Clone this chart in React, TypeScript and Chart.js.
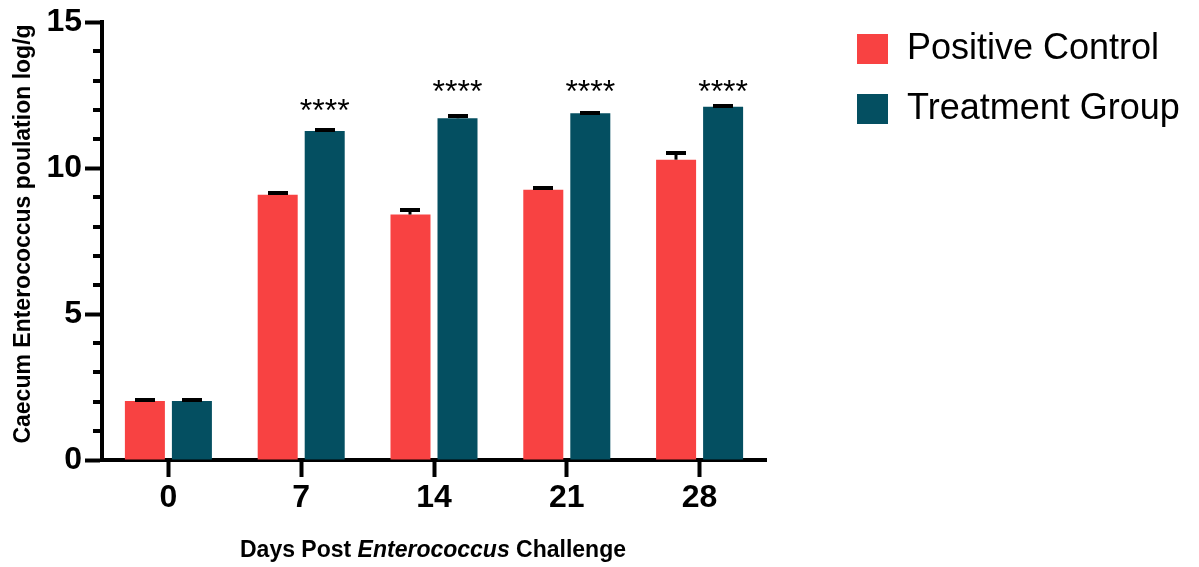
import React, { useEffect, useRef } from 'react';
import { Chart, registerables } from 'chart.js';

Chart.register(...registerables);

// Sampling days after the challenge
const categories = ['0', '7', '14', '21', '28'];

// Mean caecal Enterococcus counts (log/g) and their SEM
const positiveControl = [2.02, 9.09, 8.41, 9.26, 10.29];
const positiveControlSem = [0.04, 0.05, 0.14, 0.05, 0.22];
const treatmentGroup = [2.02, 11.27, 11.71, 11.88, 12.1];
const treatmentGroupSem = [0.03, 0.02, 0.09, 0.02, 0.03];

// Significance marks above the treatment bars and the level they sit at
const significance = ['', '****', '****', '****', '****'];
const significanceLevel = [0, 12.13, 12.79, 12.79, 12.79];

// Value axis ticks
const yTickValues = [0, 5, 10, 15];

const FONT = "'Liberation Sans', Arial, Helvetica, sans-serif";
const RED = '#F84242';
const TEAL = '#044F61';
const INK = '#000000';

const decorations = {
  id: 'decorations',
  afterDatasetsDraw(chart: any) {
    const ctx = chart.ctx as CanvasRenderingContext2D;
    const y = chart.scales.y;
    const sems = [positiveControlSem, treatmentGroupSem];

    // upper error bars with caps
    chart.data.datasets.forEach((ds: any, i: number) => {
      const meta = chart.getDatasetMeta(i);
      meta.data.forEach((bar: any, j: number) => {
        const top = Math.round(y.getPixelForValue(ds.data[j] + sems[i][j]));
        const x = Math.round(bar.x);
        ctx.save();
        ctx.strokeStyle = INK;
        ctx.lineCap = 'butt';
        ctx.lineWidth = 3;
        ctx.beginPath();
        ctx.moveTo(x, bar.y);
        ctx.lineTo(x, top);
        ctx.stroke();
        ctx.lineWidth = 4;
        ctx.beginPath();
        ctx.moveTo(x - 10, top);
        ctx.lineTo(x + 10, top);
        ctx.stroke();
        ctx.restore();
      });
    });

    // significance stars over the treatment bars
    const tMeta = chart.getDatasetMeta(1);
    ctx.save();
    ctx.fillStyle = INK;
    ctx.font = `32px ${FONT}`;
    ctx.textAlign = 'center';
    ctx.textBaseline = 'alphabetic';
    tMeta.data.forEach((bar: any, j: number) => {
      if (!significance[j]) return;
      const cy = y.getPixelForValue(significanceLevel[j]);
      ctx.fillText(significance[j], bar.x, cy + 32 * 0.48);
    });
    ctx.restore();
  },
  afterDraw(chart: any) {
    const ctx = chart.ctx as CanvasRenderingContext2D;
    const y = chart.scales.y;
    const area = chart.chartArea;

    // minor ticks on the value axis
    ctx.save();
    ctx.strokeStyle = INK;
    ctx.lineWidth = 4;
    for (let v = 0; v <= 15; v++) {
      if (yTickValues.includes(v)) continue;
      const py = Math.round(y.getPixelForValue(v));
      ctx.beginPath();
      ctx.moveTo(area.left - 9, py);
      ctx.lineTo(area.left, py);
      ctx.stroke();
    }
    // close the corner where the two axis lines meet
    ctx.fillStyle = INK;
    ctx.fillRect(area.left - 2, area.bottom - 2, 4, 4);
    ctx.restore();

    // value axis title
    ctx.save();
    ctx.translate(24, 234);
    ctx.rotate(-Math.PI / 2);
    ctx.fillStyle = INK;
    ctx.font = `bold 23px ${FONT}`;
    ctx.textAlign = 'center';
    ctx.textBaseline = 'middle';
    ctx.fillText('Caecum Enterococcus poulation log/g', 0, 0);
    ctx.restore();

    // category axis title with the italic genus name
    ctx.save();
    ctx.fillStyle = INK;
    ctx.textBaseline = 'middle';
    ctx.textAlign = 'left';
    const parts = [
      { text: 'Days Post ', font: `bold 23px ${FONT}` },
      { text: 'Enterococcus', font: `italic bold 23px ${FONT}` },
      { text: ' Challenge', font: `bold 23px ${FONT}` },
    ];
    let total = 0;
    for (const p of parts) {
      ctx.font = p.font;
      total += ctx.measureText(p.text).width;
    }
    let cx = 433 - total / 2;
    for (const p of parts) {
      ctx.font = p.font;
      ctx.fillText(p.text, cx, 551);
      cx += ctx.measureText(p.text).width;
    }
    ctx.restore();

    // legend
    ctx.save();
    ctx.font = `36px ${FONT}`;
    ctx.textAlign = 'left';
    ctx.textBaseline = 'middle';
    chart.data.datasets.forEach((ds: any, i: number) => {
      const top = 34 + i * 60;
      ctx.fillStyle = ds.backgroundColor;
      ctx.fillRect(857, top, 31, 30);
      ctx.fillStyle = INK;
      ctx.fillText(ds.label, 907, top + 15);
    });
    ctx.restore();
  },
};

export default function App() {
  const canvasRef = useRef<HTMLCanvasElement | null>(null);

  useEffect(() => {
    const canvas = canvasRef.current;
    if (!canvas) return;
    const chart = new Chart(canvas, {
      type: 'bar',
      data: {
        labels: categories,
        datasets: [
          {
            label: 'Positive Control',
            data: positiveControl,
            backgroundColor: RED,
            borderWidth: 0,
            categoryPercentage: 0.708,
            barPercentage: 0.851,
          },
          {
            label: 'Treatment Group',
            data: treatmentGroup,
            backgroundColor: TEAL,
            borderWidth: 0,
            categoryPercentage: 0.708,
            barPercentage: 0.851,
          },
        ],
      },
      options: {
        responsive: false,
        animation: false,
        devicePixelRatio: 1,
        layout: { padding: { left: 0, top: 21, right: 433, bottom: 0 } },
        plugins: {
          legend: { display: false },
          tooltip: { enabled: false },
        },
        scales: {
          x: {
            type: 'category',
            offset: true,
            grid: {
              display: true,
              drawOnChartArea: false,
              offset: false,
              tickLength: 17,
              tickWidth: 4,
              tickColor: INK,
              color: INK,
            },
            border: { display: true, width: 4, color: INK },
            ticks: {
              color: INK,
              padding: 2,
              maxRotation: 0,
              autoSkip: false,
              font: { family: FONT, size: 32, weight: 'bold' },
            },
            afterFit: (scale: any) => {
              scale.height = 107;
            },
          },
          y: {
            min: 0,
            max: 15,
            grid: {
              display: true,
              drawOnChartArea: false,
              tickLength: 17,
              tickWidth: 4,
              tickColor: (c: any) =>
                c.tick && yTickValues.includes(c.tick.value) ? INK : 'rgba(0,0,0,0)',
            },
            border: { display: true, width: 4, color: INK },
            ticks: {
              stepSize: 1,
              autoSkip: false,
              color: INK,
              padding: 3,
              font: { family: FONT, size: 32, weight: 'bold' },
              callback: (v: any) => (yTickValues.includes(Number(v)) ? String(v) : ''),
            },
            afterFit: (scale: any) => {
              scale.width = 102;
            },
          },
        },
      },
      plugins: [decorations],
    } as any);
    return () => chart.destroy();
  }, []);

  return (
    <div style={{ position: 'fixed', left: 0, top: 0, width: 1199, height: 567, background: '#fff' }}>
      <canvas ref={canvasRef} width={1199} height={567} style={{ display: 'block' }} />
    </div>
  );
}
